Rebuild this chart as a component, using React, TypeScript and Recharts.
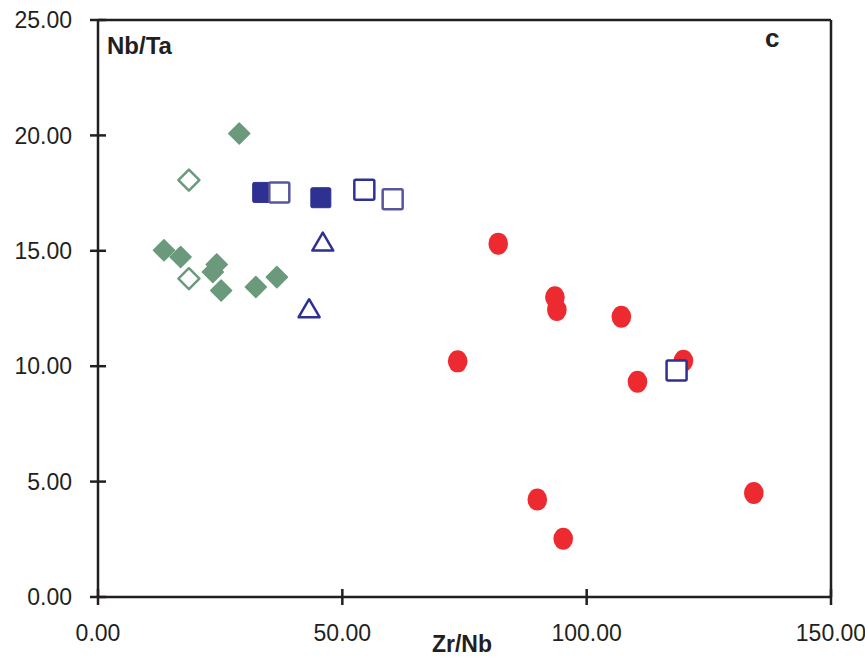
import { ScatterChart, Scatter, XAxis, YAxis, ReferenceLine } from 'recharts'

// Zr/Nb (x) vs Nb/Ta (y)
const greenFilled = [
  { x: 28.9, y: 20.08 }, { x: 13.5, y: 15.02 }, { x: 16.9, y: 14.73 }, { x: 24.3, y: 14.41 },
  { x: 23.5, y: 14.08 }, { x: 25.2, y: 13.28 }, { x: 32.3, y: 13.43 }, { x: 36.6, y: 13.86 },
]
const greenOpen = [{ x: 18.6, y: 18.06 }, { x: 18.6, y: 13.79 }]
const redDots = [
  { x: 81.9, y: 15.31 }, { x: 93.5, y: 12.99 }, { x: 93.9, y: 12.44 }, { x: 107.1, y: 12.14 },
  { x: 73.6, y: 10.21 }, { x: 119.8, y: 10.24 }, { x: 110.4, y: 9.33 }, { x: 89.9, y: 4.22 },
  { x: 95.2, y: 2.52 }, { x: 134.2, y: 4.51 },
]
const navyFilled = [{ x: 33.7, y: 17.53 }, { x: 45.6, y: 17.3 }]
const navyOpen = [{ x: 37.1, y: 17.53 }, { x: 54.5, y: 17.65 }, { x: 60.3, y: 17.23 }, { x: 118.4, y: 9.81 }]
const triangles = [{ x: 46.0, y: 15.38 }, { x: 43.2, y: 12.49 }]

const xTicks = [0, 50, 100, 150]
const yTicks = [0, 5, 10, 15, 20, 25]

const INK = '#231f20'
const GREEN = '#6a9a7b'
const NAVY = '#2e3192'
const NAVY_LIGHT = '#57559e'
const RED = '#ed2a2f'
const FONT = '"Liberation Sans", Arial, sans-serif'

const TS = 8
const YM = 18
const XM = 20

const YTick = (p: any) => {
  const { x, y, payload } = p
  const ax = x + TS + YM
  return (
    <g>
      <line x1={ax - 8} x2={ax + 8} y1={y} y2={y} stroke={INK} strokeWidth={2.5} />
      <text x={x} y={y} dy="0.36em" textAnchor="end" fontSize={23} fill={INK} fontFamily={FONT}>
        {payload.value.toFixed(2)}
      </text>
    </g>
  )
}

const XTick = (p: any) => {
  const { x, y, payload } = p
  const ay = y - TS - XM
  return (
    <g>
      <line x1={x} x2={x} y1={ay - 8} y2={ay + 8} stroke={INK} strokeWidth={2.5} />
      <text x={x} y={y} dy="0.71em" textAnchor="middle" fontSize={23} fill={INK} fontFamily={FONT}>
        {payload.value.toFixed(2)}
      </text>
    </g>
  )
}

const Diamond = ({ cx, cy, open }: any) => (
  <path
    d={`M${cx},${cy - 10.5} L${cx + 10.5},${cy} L${cx},${cy + 10.5} L${cx - 10.5},${cy} Z`}
    fill={open ? '#fff' : GREEN}
    stroke={GREEN}
    strokeWidth={open ? 2.5 : 1.5}
    strokeLinejoin="round"
  />
)

const Square = ({ cx, cy, open, color }: any) => (
  <rect
    x={cx - 10}
    y={cy - 10}
    width={20}
    height={20}
    rx={1.5}
    fill={open ? '#fff' : color}
    stroke={color}
    strokeWidth={open ? 2.5 : 1}
  />
)

const Triangle = ({ cx, cy }: any) => (
  <path
    d={`M${cx},${cy - 9.5} L${cx + 10.5},${cy + 8.5} L${cx - 10.5},${cy + 8.5} Z`}
    fill="#fff"
    stroke={NAVY}
    strokeWidth={2.5}
    strokeLinejoin="round"
  />
)

const Blob = ({ cx, cy }: any) => <ellipse cx={cx} cy={cy} rx={9.8} ry={11} fill={RED} />

export default function App() {
  return (
    <div style={{ position: 'absolute', left: 0, top: 0, background: '#fff' }}>
      <ScatterChart width={865} height={658} margin={{ top: 20, right: 34, left: 0, bottom: 0 }}>
        <XAxis
          type="number"
          dataKey="x"
          domain={[0, 150]}
          ticks={xTicks}
          height={61}
          tickSize={TS}
          tickMargin={XM}
          tickLine={false}
          tick={<XTick />}
          axisLine={{ stroke: INK, strokeWidth: 2.5 }}
        />
        <YAxis
          type="number"
          dataKey="y"
          domain={[0, 25]}
          ticks={yTicks}
          width={98}
          tickSize={TS}
          tickMargin={YM}
          tickLine={false}
          tick={<YTick />}
          axisLine={{ stroke: INK, strokeWidth: 2.5 }}
        />
        <ReferenceLine y={25} stroke={INK} strokeWidth={2.5} />
        <ReferenceLine x={150} stroke={INK} strokeWidth={2.5} />
        <Scatter data={greenFilled} isAnimationActive={false} shape={(p: any) => <Diamond {...p} />} />
        <Scatter data={greenOpen} isAnimationActive={false} shape={(p: any) => <Diamond {...p} open />} />
        <Scatter data={redDots} isAnimationActive={false} shape={(p: any) => <Blob {...p} />} />
        <Scatter data={navyFilled} isAnimationActive={false} shape={(p: any) => <Square {...p} color={NAVY} />} />
        <Scatter data={navyOpen} isAnimationActive={false} shape={(p: any) => <Square {...p} open color={p.index % 2 === 0 && p.index < 3 ? NAVY_LIGHT : NAVY} />} />
        <Scatter data={triangles} isAnimationActive={false} shape={(p: any) => <Triangle {...p} />} />
        <text x={107} y={54} fontSize={24} fontWeight="bold" fill={INK} fontFamily={FONT}>Nb/Ta</text>
        <text x={765} y={47} fontSize={26} fontWeight="bold" fill={INK} fontFamily={FONT}>c</text>
        <text x={462} y={652} textAnchor="middle" fontSize={23} fontWeight="bold" fill={INK} fontFamily={FONT}>Zr/Nb</text>
      </ScatterChart>
    </div>
  )
}
